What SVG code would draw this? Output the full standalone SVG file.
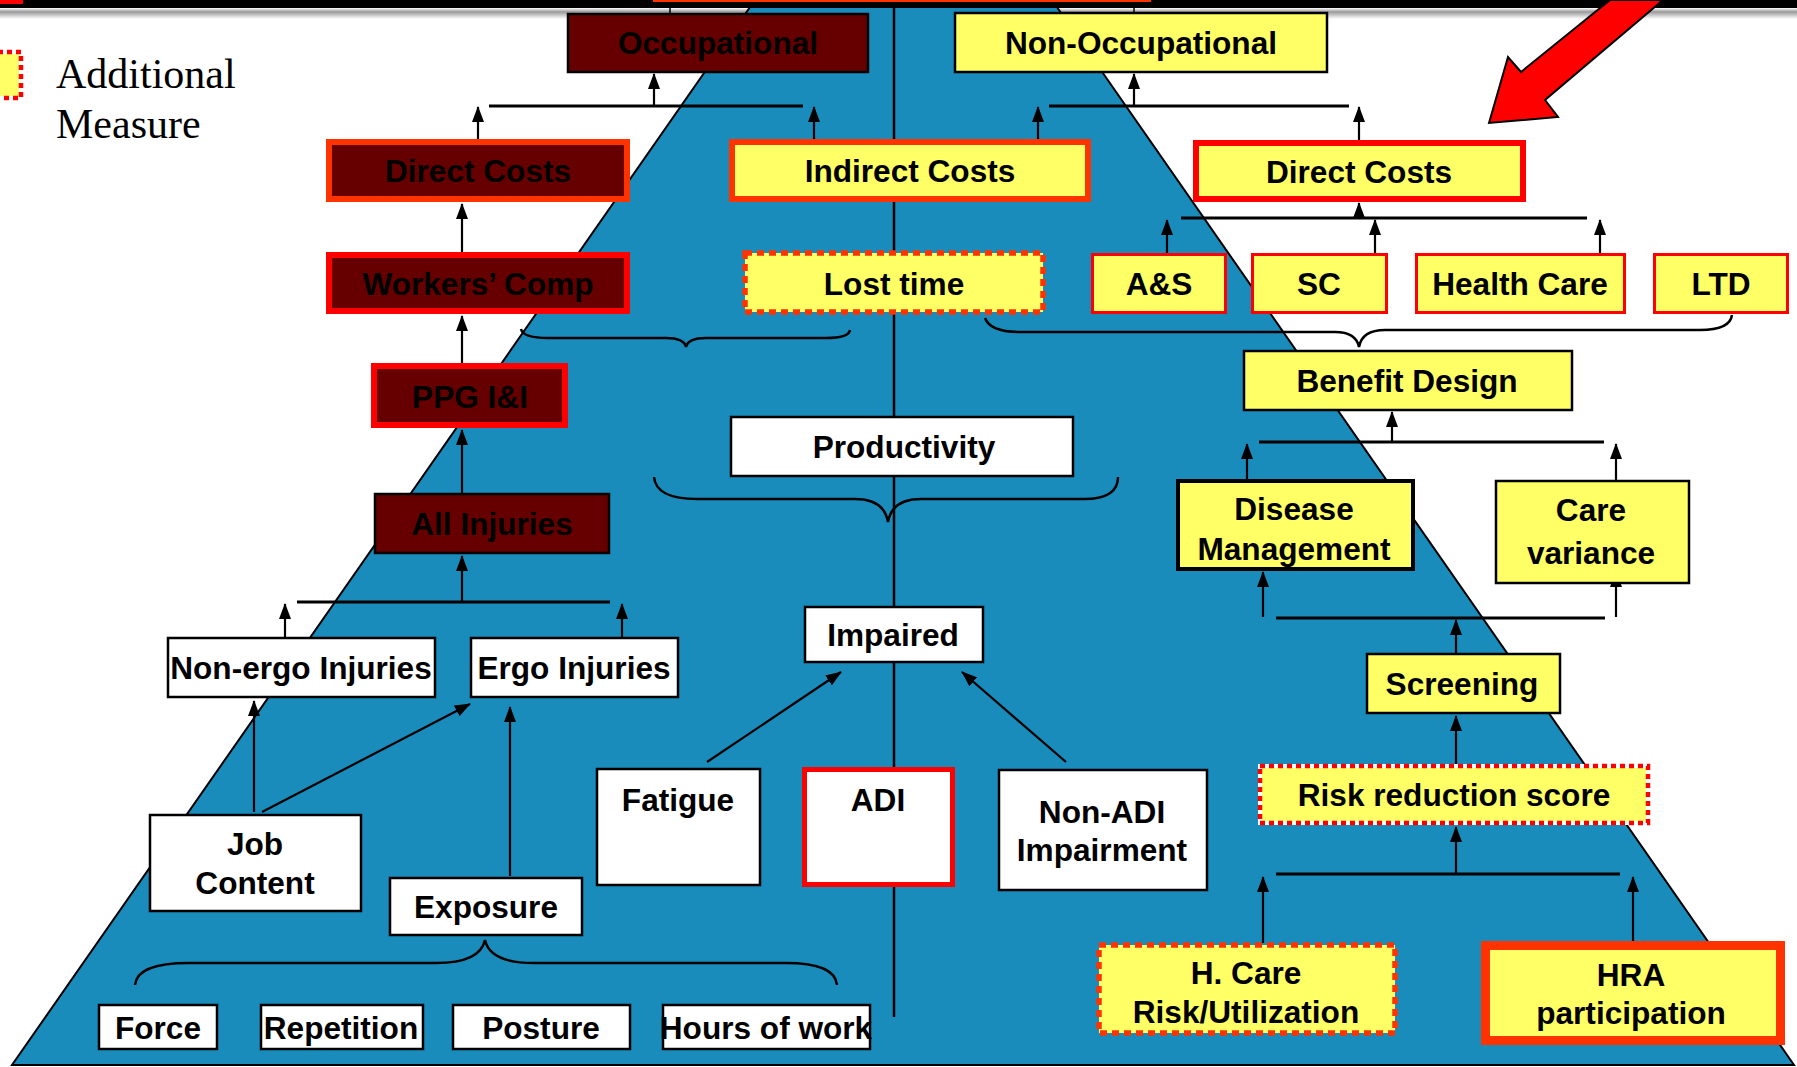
<svg xmlns="http://www.w3.org/2000/svg" width="1797" height="1067" viewBox="0 0 1797 1067">
<defs>
<linearGradient id="band" x1="0" y1="0" x2="0" y2="1">
<stop offset="0" stop-color="#ffffff"/>
<stop offset="0.35" stop-color="#9a9a9a"/>
<stop offset="1" stop-color="#ffffff"/>
</linearGradient>
<marker id="ah" markerUnits="userSpaceOnUse" markerWidth="16" markerHeight="12" refX="15" refY="6" orient="auto">
<path d="M0,0 L16,6 L0,12 z" fill="#000"/>
</marker>
</defs>
<style>
text{font-family:"Liberation Sans",Arial,sans-serif;font-weight:bold;font-size:31.6px;fill:#000;text-anchor:middle}
.leg{font-family:"Liberation Serif","Times New Roman",serif;font-weight:normal;font-size:42px;text-anchor:start}
.mar{fill:#660000}
.yel{fill:#ffff66}
.wht{fill:#ffffff}
.bk{stroke:#000;stroke-width:2.5}
.bk4{stroke:#000;stroke-width:4}
.or6{stroke:#ff3300;stroke-width:6}
.rd6{stroke:#ff0000;stroke-width:6}
.rd3{stroke:#ff0000;stroke-width:3}
.or9{stroke:#ff3300;stroke-width:9}
.rd5{stroke:#ff0000;stroke-width:5}
.dsho{stroke:#ff3300;stroke-width:5.5;stroke-dasharray:7 5}
.dshr{stroke:#ff0000;stroke-width:4.5;stroke-dasharray:5 4}
.ar{stroke:#000;stroke-width:2.2;fill:none;marker-end:url(#ah)}
.bar{stroke:#000;stroke-width:3;fill:none}
.brace{stroke:#000;stroke-width:2.5;fill:none}
</style>

<rect x="0" y="0" width="1797" height="1067" fill="#ffffff"/>
<rect x="0" y="8" width="1797" height="11" fill="url(#band)"/>

<!-- pyramid -->
<polygon points="755,0 1052,0 1794,1065 12,1065" fill="#1a8cbc" stroke="#000" stroke-width="2"/>
<line x1="894" y1="0" x2="894" y2="1017" stroke="#000" stroke-width="2.5"/>

<!-- top bar -->
<rect x="0" y="0" width="1797" height="8" fill="#000"/>
<rect x="0" y="0" width="23" height="4" fill="#ff0000"/>
<rect x="653" y="0" width="498" height="2" fill="#ff3300"/>
<line x1="670" y1="8" x2="670" y2="13" stroke="#000" stroke-width="1.5"/>
<line x1="1134" y1="8" x2="1134" y2="13" stroke="#000" stroke-width="1.5"/>

<!-- big red arrow -->
<polygon points="1489,123 1508,57 1521,72 1610,0 1663,0 1545,100 1558,117" fill="#ff0000" stroke="#000" stroke-width="2" stroke-linejoin="miter"/>

<!-- legend -->
<g id="legend">
<rect x="-20" y="52" width="41" height="46" fill="#ffff66" stroke="#ffffff" stroke-width="4"/>
<rect x="-20" y="52" width="41" height="46" fill="none" class="dshr"/>
<text class="leg" x="56" y="88">Additional</text>
<text class="leg" x="56" y="138">Measure</text>
</g>

<!-- connectors -->
<g id="connectors">
<line class="bar" x1="489" y1="106" x2="803" y2="106"/>
<line class="ar" x1="654" y1="106" x2="654" y2="74"/>
<line class="ar" x1="478" y1="139" x2="478" y2="107"/>
<line class="ar" x1="814" y1="139" x2="814" y2="107"/>
<line class="bar" x1="1049" y1="106" x2="1349" y2="106"/>
<line class="ar" x1="1134" y1="106" x2="1134" y2="74"/>
<line class="ar" x1="1038" y1="139" x2="1038" y2="107"/>
<line class="ar" x1="1359" y1="140" x2="1359" y2="107"/>
<line class="bar" x1="1181" y1="218" x2="1587" y2="218"/>
<line class="ar" x1="1359" y1="218" x2="1359" y2="203"/>
<line class="ar" x1="1167" y1="253" x2="1167" y2="220"/>
<line class="ar" x1="1375" y1="253" x2="1375" y2="220"/>
<line class="ar" x1="1600" y1="253" x2="1600" y2="220"/>
<line class="ar" x1="462" y1="252" x2="462" y2="204"/>
<line class="ar" x1="462" y1="363" x2="462" y2="316"/>
<line class="ar" x1="462" y1="493" x2="462" y2="430"/>
<line class="bar" x1="297" y1="602" x2="610" y2="602"/>
<line class="ar" x1="462" y1="602" x2="462" y2="556"/>
<line class="ar" x1="285" y1="637" x2="285" y2="604"/>
<line class="ar" x1="622" y1="637" x2="622" y2="604"/>
<line class="ar" x1="254" y1="812" x2="254" y2="701"/>
<line class="ar" x1="262" y1="812" x2="470" y2="704"/>
<line class="ar" x1="510" y1="876" x2="510" y2="707"/>
<line class="ar" x1="707" y1="762" x2="841" y2="672"/>
<line class="ar" x1="1066" y1="762" x2="962" y2="672"/>
<line class="bar" x1="1259" y1="442" x2="1604" y2="442"/>
<line class="ar" x1="1392" y1="442" x2="1392" y2="412"/>
<line class="ar" x1="1247" y1="479" x2="1247" y2="444"/>
<line class="ar" x1="1616" y1="480" x2="1616" y2="444"/>
<line class="bar" x1="1276" y1="618" x2="1605" y2="618"/>
<line class="ar" x1="1263" y1="617" x2="1263" y2="572"/>
<line class="ar" x1="1616" y1="617" x2="1616" y2="572"/>
<line class="ar" x1="1456" y1="653" x2="1456" y2="620"/>
<line class="ar" x1="1456" y1="766" x2="1456" y2="716"/>
<line class="bar" x1="1276" y1="874" x2="1620" y2="874"/>
<line class="ar" x1="1456" y1="874" x2="1456" y2="827"/>
<line class="ar" x1="1263" y1="943" x2="1263" y2="877"/>
<line class="ar" x1="1633" y1="941" x2="1633" y2="877"/>
<path class="brace" d="M521,329 Q523,338 548,338 L666,338 Q684,338 686,347 Q688,338 706,338 L826,338 Q849,338 850,330"/>
<path class="brace" d="M985,318 Q990,332 1020,332 L1335,332 Q1356,332 1359,347 Q1362,330 1385,330 L1700,330 Q1730,330 1732,315"/>
<path class="brace" d="M654,477 Q656,499 697,499 L855,499 Q884,499 888,522 Q892,499 921,499 L1084,499 Q1118,499 1118,477"/>
<path class="brace" d="M135,985 Q137,963 189,963 L436,963 Q480,963 485,940 Q490,963 534,963 L786,963 Q835,963 837,985"/>
</g>

<!-- nodes -->
<g id="occupational"><rect class="mar bk" x="568" y="14" width="300" height="58"/><text x="718" y="54">Occupational</text></g>
<g id="non-occupational"><rect class="yel bk" x="955" y="13" width="372" height="59"/><text x="1141" y="54">Non-Occupational</text></g>
<g id="direct-costs-occ"><rect class="mar or6" x="329" y="142" width="298" height="57"/><text x="478" y="182">Direct Costs</text></g>
<g id="indirect-costs"><rect class="yel or6" x="732" y="142" width="356" height="57"/><text x="910" y="182">Indirect Costs</text></g>
<g id="direct-costs-nonocc"><rect class="yel rd6" x="1196" y="143" width="327" height="56"/><text x="1359" y="183">Direct Costs</text></g>
<g id="workers-comp"><rect class="mar rd6" x="329" y="255" width="298" height="56"/><text x="478" y="295">Workers’ Comp</text></g>
<g id="lost-time"><rect class="yel dsho" x="745" y="253" width="298" height="59"/><text x="894" y="295">Lost time</text></g>
<g id="as"><rect class="yel rd3" x="1092.5" y="254.5" width="133" height="58"/><text x="1159" y="295">A&amp;S</text></g>
<g id="sc"><rect class="yel rd3" x="1252.5" y="254.5" width="134" height="58"/><text x="1319" y="295">SC</text></g>
<g id="health-care"><rect class="yel rd3" x="1416.5" y="254.5" width="208" height="58"/><text x="1520" y="295">Health Care</text></g>
<g id="ltd"><rect class="yel rd3" x="1654.5" y="254.5" width="133" height="58"/><text x="1721" y="295">LTD</text></g>
<g id="benefit-design"><rect class="yel bk" x="1244" y="351" width="328" height="59"/><text x="1407" y="392">Benefit Design</text></g>
<g id="ppg"><rect class="mar rd6" x="374" y="366" width="191" height="59"/><text x="470" y="408">PPG I&amp;I</text></g>
<g id="productivity"><rect class="wht bk" x="731" y="417" width="342" height="59"/><text x="904" y="458">Productivity</text></g>
<g id="all-injuries"><rect class="mar bk" x="375" y="494" width="234" height="59"/><text x="492" y="535">All Injuries</text></g>
<g id="disease-management"><rect class="yel bk4" x="1178" y="481" width="235" height="88"/><text x="1294" y="520">Disease</text><text x="1294" y="560">Management</text></g>
<g id="care-variance"><rect class="yel bk" x="1496" y="481" width="193" height="102"/><text x="1591" y="521">Care</text><text x="1591" y="564">variance</text></g>
<g id="impaired"><rect class="wht bk" x="805" y="607" width="178" height="55"/><text x="893" y="646">Impaired</text></g>
<g id="non-ergo"><rect class="wht bk" x="168" y="638" width="267" height="59"/><text x="301" y="679">Non-ergo Injuries</text></g>
<g id="ergo"><rect class="wht bk" x="471" y="638" width="207" height="59"/><text x="574" y="679">Ergo Injuries</text></g>
<g id="screening"><rect class="yel bk" x="1367" y="654" width="193" height="59"/><text x="1462" y="695">Screening</text></g>
<g id="risk-reduction"><rect class="yel" x="1260" y="766" width="388" height="57" stroke="#ffffff" stroke-width="4"/><rect class="dshr" fill="none" x="1260" y="766" width="388" height="57"/><text x="1454" y="806">Risk reduction score</text></g>
<g id="fatigue"><rect class="wht bk" x="597" y="769" width="163" height="116"/><text x="678" y="811">Fatigue</text></g>
<g id="adi"><rect class="wht rd5" x="804.5" y="769.5" width="148" height="115"/><text x="878" y="811">ADI</text></g>
<g id="non-adi"><rect class="wht bk" x="999" y="770" width="208" height="120"/><text x="1102" y="823">Non-ADI</text><text x="1102" y="861">Impairment</text></g>
<g id="job-content"><rect class="wht bk" x="150" y="815" width="211" height="96"/><text x="255" y="855">Job</text><text x="255" y="894">Content</text></g>
<g id="exposure"><rect class="wht bk" x="390" y="878" width="192" height="57"/><text x="486" y="918">Exposure</text></g>
<g id="hcare"><rect class="yel dsho" x="1099" y="945" width="296" height="88"/><text x="1246" y="984">H. Care</text><text x="1246" y="1023">Risk/Utilization</text></g>
<g id="hra"><rect class="yel or9" x="1485.5" y="945.5" width="295" height="95"/><text x="1631" y="986">HRA</text><text x="1631" y="1024">participation</text></g>
<g id="force"><rect class="wht bk" x="99" y="1005" width="118" height="44"/><text x="158" y="1039">Force</text></g>
<g id="repetition"><rect class="wht bk" x="261" y="1005" width="162" height="44"/><text x="341" y="1039">Repetition</text></g>
<g id="posture"><rect class="wht bk" x="453" y="1005" width="177" height="44"/><text x="541" y="1039">Posture</text></g>
<g id="hours"><rect class="wht bk" x="663" y="1005" width="207" height="44"/><text x="766" y="1039">Hours of work</text></g>
</svg>
